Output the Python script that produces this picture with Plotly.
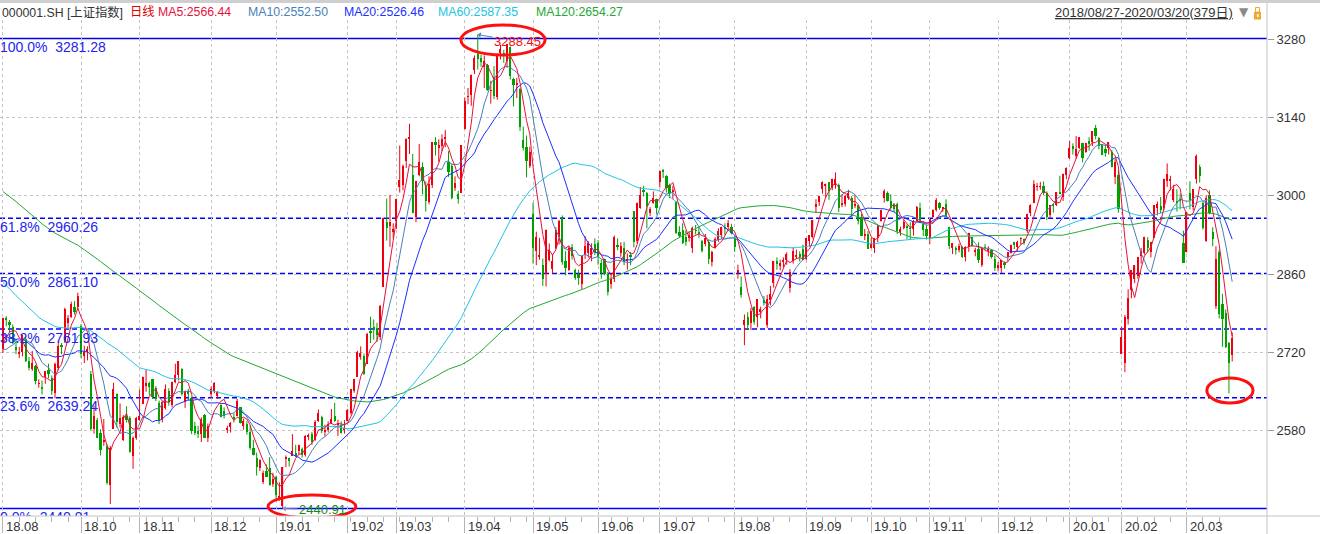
import numpy as np
import pandas as pd
import plotly.graph_objects as go

# ---------------- data ----------------
month_days = {
    "2018-08": [27, 28, 29, 30, 31],
    "2018-09": [3, 4, 5, 6, 7, 10, 11, 12, 13, 14, 17, 18, 19, 20, 21, 25, 26, 27, 28],
    "2018-10": [8, 9, 10, 11, 12, 15, 16, 17, 18, 19, 22, 23, 24, 25, 26, 29, 30, 31],
    "2018-11": [1, 2, 5, 6, 7, 8, 9, 12, 13, 14, 15, 16, 19, 20, 21, 22, 23, 26, 27, 28, 29, 30],
    "2018-12": [3, 4, 5, 6, 7, 10, 11, 12, 13, 14, 17, 18, 19, 20, 21, 24, 25, 26, 27, 28],
    "2019-01": [2, 3, 4, 7, 8, 9, 10, 11, 14, 15, 16, 17, 18, 21, 22, 23, 24, 25, 28, 29, 30, 31],
    "2019-02": [1, 11, 12, 13, 14, 15, 18, 19, 20, 21, 22, 25, 26, 27, 28],
    "2019-03": [1, 4, 5, 6, 7, 8, 11, 12, 13, 14, 15, 18, 19, 20, 21, 22, 25, 26, 27, 28, 29],
    "2019-04": [1, 2, 3, 4, 8, 9, 10, 11, 12, 15, 16, 17, 18, 19, 22, 23, 24, 25, 26, 29, 30],
    "2019-05": [6, 7, 8, 9, 10, 13, 14, 15, 16, 17, 20, 21, 22, 23, 24, 27, 28, 29, 30, 31],
    "2019-06": [3, 4, 5, 6, 10, 11, 12, 13, 14, 17, 18, 19, 20, 21, 24, 25, 26, 27, 28],
    "2019-07": [1, 2, 3, 4, 5, 8, 9, 10, 11, 12, 15, 16, 17, 18, 19, 22, 23, 24, 25, 26, 29, 30, 31],
    "2019-08": [1, 2, 5, 6, 7, 8, 9, 12, 13, 14, 15, 16, 19, 20, 21, 22, 23, 26, 27, 28, 29, 30],
    "2019-09": [2, 3, 4, 5, 6, 9, 10, 11, 12, 16, 17, 18, 19, 20, 23, 24, 25, 26, 27, 30],
    "2019-10": [8, 9, 10, 11, 14, 15, 16, 17, 18, 21, 22, 23, 24, 25, 28, 29, 30, 31],
    "2019-11": [1, 4, 5, 6, 7, 8, 11, 12, 13, 14, 15, 18, 19, 20, 21, 22, 25, 26, 27, 28, 29],
    "2019-12": [2, 3, 4, 5, 6, 9, 10, 11, 12, 13, 16, 17, 18, 19, 20, 23, 24, 25, 26, 27, 30, 31],
    "2020-01": [2, 3, 6, 7, 8, 9, 10, 13, 14, 15, 16, 17, 20, 21, 22, 23],
    "2020-02": [3, 4, 5, 6, 7, 10, 11, 12, 13, 14, 17, 18, 19, 20, 21, 24, 25, 26, 27, 28],
    "2020-03": [2, 3, 4, 5, 6, 9, 10, 11, 12, 13, 16, 17, 18, 19, 20],
}

opens_by_month = [
    [2727, 2782, 2774, 2765, 2730],
    [2717, 2721, 2745, 2704, 2691, 2696, 2664, 2658, 2677, 2689, 2675, 2648, 2692, 2733, 2741, 2773, 2784, 2801, 2801],
    [2768, 2713, 2722, 2682, 2583, 2600, 2576, 2560, 2553, 2484, 2584, 2646, 2593, 2564, 2606, 2603, 2535, 2568],
    [2599, 2628, 2660, 2665, 2672, 2656, 2630, 2602, 2620, 2651, 2626, 2668, 2680, 2690, 2631, 2651, 2639, 2588, 2580, 2575, 2609, 2568],
    [2646, 2651, 2643, 2626, 2615, 2583, 2586, 2605, 2606, 2622, 2588, 2593, 2578, 2550, 2532, 2513, 2488, 2508, 2513, 2485],
    [2497, 2461, 2446, 2529, 2532, 2535, 2540, 2544, 2548, 2537, 2570, 2574, 2564, 2597, 2605, 2577, 2582, 2594, 2607, 2592, 2590, 2583],
    [2597, 2612, 2651, 2677, 2712, 2714, 2700, 2759, 2765, 2763, 2747, 2838, 2953, 2946, 2935],
    [2955, 3016, 3020, 3062, 3103, 3038, 2963, 3038, 3052, 3018, 2990, 3020, 3097, 3086, 3090, 3102, 3060, 3053, 3015, 3004, 3005],
    [3119, 3177, 3180, 3225, 3253, 3247, 3230, 3234, 3188, 3212, 3177, 3256, 3255, 3242, 3267, 3209, 3198, 3191, 3100, 3087, 3053],
    [2968, 2902, 2891, 2876, 2860, 2886, 2870, 2906, 2926, 2962, 2884, 2868, 2908, 2868, 2860, 2843, 2894, 2898, 2894, 2914],
    [2916, 2880, 2887, 2860, 2842, 2851, 2911, 2898, 2907, 2883, 2894, 2973, 2919, 2979, 3009, 3005, 2970, 2987, 2994],
    [3024, 3046, 3035, 3020, 3008, 2989, 2935, 2939, 2927, 2924, 2907, 2939, 2934, 2920, 2914, 2918, 2881, 2907, 2922, 2931, 2945, 2945, 2944],
    [2925, 2862, 2838, 2770, 2783, 2772, 2801, 2783, 2793, 2814, 2770, 2814, 2844, 2883, 2875, 2883, 2885, 2836, 2883, 2892, 2896, 2905],
    [2887, 2920, 2926, 2980, 2990, 3013, 3019, 3024, 3014, 3020, 3019, 2985, 2985, 2997, 2997, 2983, 2983, 2963, 2929, 2932],
    [2906, 2907, 2924, 2955, 2996, 3006, 2991, 2983, 2986, 2937, 2942, 2946, 2942, 2940, 2955, 2979, 2949, 2940],
    [2924, 2962, 2975, 2987, 2977, 2986, 2945, 2906, 2906, 2903, 2909, 2891, 2909, 2926, 2901, 2905, 2877, 2908, 2903, 2903, 2887],
    [2871, 2872, 2879, 2890, 2898, 2917, 2908, 2923, 2923, 2937, 2970, 2988, 3016, 3016, 3017, 3006, 2966, 2984, 2983, 3007, 2998, 3037],
    [3067, 3089, 3071, 3085, 3094, 3079, 3099, 3097, 3121, 3104, 3092, 3084, 3085, 3079, 3034, 3037],
    [2717, 2701, 2780, 2832, 2852, 2857, 2892, 2898, 2921, 2899, 2925, 2979, 2982, 2979, 3026, 3028, 2993, 2990, 2994, 2916],
    [2899, 3006, 2981, 3031, 3052, 2987, 2919, 3001, 2936, 2804, 2900, 2807, 2790, 2737, 2716],
]

highs_by_month = [
    [2782, 2785, 2778, 2770, 2744],
    [2730, 2751, 2748, 2712, 2723, 2698, 2672, 2670, 2687, 2700, 2679, 2702, 2742, 2737, 2800, 2787, 2811, 2812, 2827],
    [2771, 2732, 2731, 2687, 2625, 2603, 2583, 2601, 2556, 2553, 2666, 2647, 2629, 2608, 2624, 2606, 2570, 2605],
    [2654, 2677, 2689, 2668, 2673, 2660, 2634, 2633, 2663, 2656, 2668, 2700, 2704, 2692, 2652, 2655, 2641, 2596, 2589, 2604, 2610, 2593],
    [2659, 2667, 2651, 2627, 2622, 2589, 2596, 2611, 2637, 2622, 2602, 2597, 2590, 2564, 2541, 2529, 2509, 2520, 2533, 2505],
    [2500, 2488, 2515, 2536, 2532, 2574, 2555, 2555, 2550, 2572, 2575, 2578, 2599, 2618, 2607, 2591, 2597, 2619, 2630, 2600, 2597, 2599],
    [2619, 2655, 2673, 2723, 2731, 2718, 2755, 2784, 2779, 2773, 2805, 2961, 2995, 3002, 2951],
    [2995, 3090, 3056, 3103, 3129, 3075, 3027, 3093, 3060, 3026, 3035, 3096, 3105, 3101, 3110, 3118, 3080, 3058, 3035, 3009, 3091],
    [3176, 3193, 3217, 3251, 3288.45, 3252, 3251, 3236, 3206, 3232, 3254, 3270, 3261, 3271, 3267, 3211, 3211, 3193, 3124, 3108, 3088],
    [2988, 2936, 2925, 2888, 2940, 2915, 2896, 2944, 2957, 2965, 2901, 2910, 2914, 2870, 2868, 2893, 2928, 2919, 2915, 2924],
    [2921, 2886, 2888, 2864, 2861, 2929, 2924, 2917, 2918, 2897, 2900, 2973, 2988, 3016, 3018, 3007, 2980, 3008, 2995],
    [3045, 3048, 3037, 3022, 3018, 2991, 2946, 2951, 2938, 2937, 2945, 2948, 2944, 2921, 2932, 2921, 2902, 2926, 2942, 2945, 2951, 2957, 2950],
    [2928, 2877, 2856, 2788, 2792, 2800, 2803, 2815, 2802, 2821, 2823, 2839, 2883, 2890, 2886, 2890, 2899, 2869, 2908, 2904, 2901, 2913],
    [2924, 2930, 2957, 2994, 3000, 3026, 3022, 3025, 3031, 3042, 3022, 3003, 3002, 3011, 3000, 3002, 2983, 2968, 2941, 2937],
    [2925, 2925, 2948, 2975, 3012, 3008, 3003, 2987, 2988, 2945, 2957, 2949, 2953, 2957, 2982, 2988, 2955, 2949],
    [2958, 2976, 2996, 2989, 2980, 2994, 2945, 2915, 2910, 2915, 2910, 2910, 2934, 2926, 2907, 2917, 2907, 2914, 2910, 2905, 2893],
    [2882, 2885, 2883, 2899, 2913, 2917, 2920, 2926, 2924, 2968, 2985, 3028, 3023, 3025, 3026, 3008, 2983, 2986, 3007, 3036, 3040, 3051],
    [3098, 3094, 3107, 3105, 3095, 3095, 3105, 3116, 3127, 3105, 3093, 3091, 3096, 3082, 3066, 3046],
    [2766, 2787, 2833, 2867, 2876, 2891, 2907, 2927, 2926, 2918, 2984, 2990, 2998, 3031, 3058, 3036, 3020, 3012, 3004, 2938],
    [2971, 3026, 3012, 3074, 3056, 2989, 3001, 3010, 2944, 2910, 2904, 2825, 2797, 2739, 2756],
]

lows_by_month = [
    [2719, 2767, 2756, 2735, 2717],
    [2710, 2713, 2703, 2688, 2687, 2663, 2657, 2645, 2664, 2674, 2644, 2638, 2688, 2717, 2737, 2764, 2782, 2788, 2796],
    [2710, 2701, 2706, 2581, 2575, 2567, 2536, 2553, 2484, 2449, 2584, 2586, 2586, 2562, 2595, 2541, 2512, 2564],
    [2598, 2628, 2650, 2643, 2638, 2633, 2592, 2595, 2618, 2625, 2622, 2665, 2670, 2643, 2621, 2634, 2574, 2572, 2567, 2560, 2567, 2560],
    [2638, 2647, 2637, 2604, 2602, 2576, 2577, 2595, 2606, 2593, 2582, 2573, 2546, 2536, 2500, 2508, 2485, 2497, 2482, 2480],
    [2456, 2455, 2440.91, 2515, 2516, 2535, 2533, 2537, 2532, 2534, 2563, 2555, 2562, 2596, 2576, 2570, 2578, 2592, 2596, 2571, 2575, 2575],
    [2597, 2609, 2648, 2677, 2707, 2680, 2700, 2737, 2743, 2739, 2742, 2838, 2920, 2909, 2924],
    [2941, 3006, 3010, 3050, 3075, 2969, 2953, 3035, 3003, 2972, 2985, 3014, 3072, 3061, 3080, 3087, 3034, 2994, 3009, 2986, 3005],
    [3119, 3164, 3161, 3218, 3226, 3231, 3193, 3188, 3165, 3173, 3172, 3244, 3238, 3229, 3208, 3160, 3175, 3116, 3081, 3033, 3050],
    [2879, 2876, 2886, 2839, 2838, 2883, 2861, 2905, 2913, 2877, 2858, 2866, 2886, 2850, 2841, 2833, 2887, 2890, 2883, 2894],
    [2877, 2852, 2858, 2822, 2834, 2846, 2903, 2891, 2876, 2868, 2876, 2908, 2915, 2977, 2999, 2942, 2964, 2986, 2967],
    [3015, 3032, 3006, 2996, 2994, 2932, 2925, 2914, 2911, 2918, 2898, 2931, 2925, 2899, 2910, 2878, 2874, 2906, 2918, 2923, 2930, 2940, 2931],
    [2900, 2852, 2818, 2733, 2760, 2760, 2770, 2765, 2781, 2804, 2764, 2804, 2836, 2868, 2867, 2872, 2877, 2827, 2879, 2887, 2883, 2885],
    [2885, 2910, 2924, 2969, 2982, 3004, 2997, 2993, 3010, 3013, 2971, 2980, 2981, 2993, 2962, 2978, 2949, 2928, 2921, 2905],
    [2906, 2898, 2917, 2954, 2988, 2990, 2975, 2971, 2932, 2929, 2940, 2923, 2923, 2929, 2955, 2954, 2928, 2922],
    [2914, 2961, 2972, 2975, 2971, 2963, 2905, 2896, 2895, 2899, 2889, 2883, 2900, 2909, 2892, 2880, 2873, 2903, 2892, 2888, 2866],
    [2865, 2862, 2870, 2883, 2897, 2905, 2902, 2913, 2913, 2934, 2964, 2987, 3009, 3011, 3001, 2957, 2961, 2970, 2982, 3004, 2991, 3030],
    [3066, 3074, 3066, 3084, 3060, 3077, 3081, 3089, 3101, 3083, 3073, 3070, 3074, 3051, 3021, 2970],
    [2717, 2685, 2770, 2817, 2844, 2852, 2879, 2895, 2899, 2890, 2925, 2965, 2969, 2974, 3016, 3010, 2989, 2972, 2976, 2880],
    [2899, 2976, 2974, 3022, 3024, 2940, 2918, 2967, 2910, 2798, 2781, 2730, 2728, 2647, 2704],
]

closes_by_month = [
    [2781, 2778, 2769, 2738, 2725],
    [2721, 2751, 2704, 2692, 2702, 2669, 2665, 2656, 2687, 2682, 2652, 2700, 2731, 2729, 2797, 2781, 2807, 2792, 2821],
    [2717, 2721, 2726, 2583, 2607, 2568, 2546, 2562, 2486, 2550, 2655, 2595, 2603, 2604, 2599, 2542, 2568, 2603],
    [2606, 2676, 2665, 2659, 2641, 2636, 2599, 2631, 2655, 2632, 2668, 2679, 2704, 2645, 2652, 2646, 2579, 2576, 2575, 2602, 2567, 2588],
    [2655, 2666, 2650, 2605, 2606, 2585, 2594, 2602, 2634, 2594, 2598, 2577, 2550, 2536, 2516, 2527, 2505, 2498, 2483, 2494],
    [2465, 2464, 2515, 2533, 2526, 2544, 2535, 2554, 2536, 2570, 2570, 2560, 2596, 2611, 2580, 2581, 2592, 2602, 2597, 2594, 2576, 2585],
    [2618, 2654, 2672, 2721, 2720, 2682, 2754, 2756, 2761, 2752, 2804, 2961, 2942, 2954, 2941],
    [2994, 3028, 3054, 3102, 3106, 2970, 3027, 3060, 3027, 2991, 3022, 3096, 3091, 3091, 3101, 3104, 3043, 2997, 3023, 2995, 3091],
    [3170, 3177, 3216, 3247, 3245, 3240, 3242, 3190, 3189, 3178, 3254, 3263, 3250, 3271, 3215, 3199, 3202, 3124, 3086, 3063, 3078],
    [2906, 2926, 2894, 2851, 2939, 2904, 2884, 2939, 2956, 2882, 2871, 2906, 2892, 2853, 2853, 2892, 2910, 2915, 2906, 2899],
    [2890, 2862, 2861, 2828, 2852, 2926, 2909, 2911, 2882, 2888, 2890, 2918, 2987, 3002, 3008, 2982, 2976, 2997, 2979],
    [3045, 3044, 3015, 3005, 3011, 2933, 2928, 2915, 2918, 2931, 2942, 2938, 2932, 2901, 2924, 2887, 2900, 2923, 2937, 2945, 2941, 2952, 2933],
    [2909, 2868, 2822, 2778, 2769, 2795, 2775, 2815, 2797, 2809, 2816, 2824, 2883, 2880, 2880, 2883, 2897, 2864, 2902, 2894, 2891, 2886],
    [2924, 2930, 2957, 2986, 3000, 3025, 3021, 3009, 3031, 3031, 2978, 2986, 2999, 3006, 2977, 2985, 2955, 2929, 2932, 2905],
    [2914, 2925, 2948, 2974, 3008, 2991, 2979, 2977, 2938, 2940, 2954, 2942, 2941, 2955, 2980, 2954, 2939, 2929],
    [2958, 2975, 2992, 2979, 2979, 2964, 2910, 2915, 2905, 2910, 2891, 2909, 2934, 2911, 2904, 2885, 2906, 2907, 2903, 2890, 2872],
    [2876, 2885, 2878, 2899, 2912, 2914, 2917, 2924, 2916, 2968, 2984, 3022, 3017, 3017, 3005, 2963, 2983, 2982, 3007, 3005, 3040, 3050],
    [3085, 3084, 3083, 3105, 3067, 3095, 3092, 3116, 3107, 3090, 3074, 3076, 3096, 3052, 3061, 2977],
    [2747, 2783, 2818, 2867, 2876, 2890, 2902, 2927, 2906, 2917, 2984, 2985, 2975, 3030, 3040, 3031, 3013, 2988, 2991, 2880],
    [2971, 2993, 3012, 3072, 3035, 2943, 2997, 2969, 2923, 2887, 2789, 2780, 2729, 2702, 2746],
]

# closes before the window (2018-03-06 .. 2018-08-24), only used for the moving averages
hist_closes = [
    3290, 3272, 3288, 3307, 3327, 3310, 3291, 3291, 3270, 3279, 3291, 3281, 3263, 3153, 3134, 3167, 3122, 3161, 3169,
    3163, 3136, 3131, 3138, 3190, 3208, 3180, 3159, 3111, 3067, 3091, 3118, 3071, 3068, 3129, 3118, 3075, 3082,
    3081, 3101, 3091, 3136, 3161, 3159, 3174, 3163, 3174, 3192, 3170, 3155, 3193, 3214, 3214, 3169, 3154, 3141, 3135, 3120, 3041, 3095,
    3075, 3091, 3114, 3115, 3109, 3067, 3052, 3079, 3049, 3044, 3021, 2907, 2915, 2875, 2889, 2859, 2844, 2813, 2786, 2847,
    2775, 2786, 2759, 2733, 2747, 2815, 2827, 2777, 2837, 2831, 2814, 2798, 2787, 2773, 2829, 2859, 2905, 2903, 2882, 2874, 2870, 2876,
    2824, 2768, 2740, 2705, 2779, 2744, 2795, 2795, 2785, 2781, 2723, 2705, 2669, 2698, 2733, 2714, 2724, 2730,
]

ma_windows = [5, 10, 20, 60, 120]
ma_colors = ["#e8103c", "#4a7fb8", "#1a30ff", "#20c4e4", "#22a832"]

fib_low = 2440.91
fib_high = 3281.28
fib_ratios = [1.0, 0.618, 0.5, 0.382, 0.236, 0.0]
fib_names = ["100.0%", "61.8%", "50.0%", "38.2%", "23.6%", "0.0%"]

y_ticks = [2580, 2720, 2860, 3000, 3140, 3280]
skip_month_labels = ["2018-09"]

header_items = [
    ("000001.SH [上证指数]", "#333333", 0),
    ("日线", "#e00000", 128),
    ("MA5:2566.44", "#e8103c", 156),
    ("MA10:2552.50", "#4a7fb8", 246),
    ("MA20:2526.46", "#1a30ff", 342),
    ("MA60:2587.35", "#20c4e4", 436),
    ("MA120:2654.27", "#22a832", 534),
]
range_text = "2018/08/27-2020/03/20(379日)"
high_text = "3288.45"
low_text = "2440.91"

# ---------------- build ----------------
for ym, o, h, l, c in zip(month_days, opens_by_month, highs_by_month, lows_by_month, closes_by_month):
    n_m = len(month_days[ym])
    assert len(o) == n_m and len(h) == n_m and len(l) == n_m and len(c) == n_m, ym

dates = []
for ym, days in month_days.items():
    for d in days:
        dates.append(pd.Timestamp(f"{ym}-{d:02d}"))
opens = [v for m in opens_by_month for v in m]
highs = [v for m in highs_by_month for v in m]
lows = [v for m in lows_by_month for v in m]
closes = [v for m in closes_by_month for v in m]
n = len(dates)
assert len(hist_closes) == 119
idx = np.arange(n)

all_close = pd.Series(hist_closes + closes, dtype=float)
mas = [all_close.rolling(w).mean().values[len(hist_closes):] for w in ma_windows]

# month starts / week starts
month_idx, month_lbl = [], []
week_idx = []
prev_m, prev_w = None, None
for i, d in enumerate(dates):
    ym = d.strftime("%Y-%m")
    if ym != prev_m:
        if ym not in skip_month_labels:
            month_idx.append(i)
            month_lbl.append(d.strftime("%y.%m"))
        prev_m = ym
    wk = d.isocalendar()[:2]
    if wk != prev_w:
        week_idx.append(i)
        prev_w = wk

# geometry (pixels)
W, H = 1320, 534
PL, PR, PT, PB = 0, 1267, 20, 516
YR = [2427.7, 3314.5]
XR = [-0.92, 388.7]
px_per_unit = (PB - PT) / (YR[1] - YR[0])


def pxx(px):
    return (px - PL) / (PR - PL)


def pxy(py):
    return (PB - py) / (PB - PT)


RED = "#f00010"
GREEN = "#00a000"

fig = go.Figure()

# wicks
for color, cond in [(RED, lambda i: closes[i] >= opens[i]), (GREEN, lambda i: closes[i] < opens[i])]:
    xs, ys = [], []
    for i in idx:
        if cond(i):
            xs += [i, i, None]
            ys += [lows[i], highs[i], None]
    fig.add_trace(go.Scatter(x=xs, y=ys, mode="lines", line=dict(color=color, width=1),
                             hoverinfo="skip", showlegend=False))

# bodies
up = [i for i in idx if closes[i] >= opens[i]]
dn = [i for i in idx if closes[i] < opens[i]]
fig.add_trace(go.Bar(x=up, base=[opens[i] for i in up], y=[max(closes[i] - opens[i], 0.8) for i in up],
                     width=0.45, marker=dict(color=RED, line=dict(width=0)), hoverinfo="skip", showlegend=False))
fig.add_trace(go.Bar(x=dn, base=[closes[i] for i in dn], y=[opens[i] - closes[i] for i in dn],
                     width=0.7, marker=dict(color=GREEN, line=dict(width=0)), hoverinfo="skip", showlegend=False))

# moving averages (long ones first so short ones are on top)
for ma, col in list(zip(mas, ma_colors))[::-1]:
    fig.add_trace(go.Scatter(x=idx, y=ma, mode="lines", line=dict(color=col, width=1),
                             hoverinfo="skip", showlegend=False))

# fibonacci lines + labels
shapes = []
fib_vals = [fib_low + r * (fib_high - fib_low) for r in fib_ratios]
for r, v in zip(fib_ratios, fib_vals):
    solid = r in (0.0, 1.0)
    shapes.append(dict(type="line", xref="paper", yref="y", x0=0, x1=1, y0=v, y1=v, layer="between",
                       line=dict(color="#0000ff", width=1.5, dash="solid" if solid else "5px,3px")))
fig.add_trace(go.Scatter(
    x=[XR[0]] * len(fib_vals),
    y=[v - 10 / px_per_unit for v in fib_vals],
    mode="text", text=[f"{nm}  {v:.2f}" for nm, v in zip(fib_names, fib_vals)],
    textposition="middle right", textfont=dict(color="#2424f0", size=14, family="Liberation Sans, Arial, sans-serif"),
    cliponaxis=True, hoverinfo="skip", showlegend=False))

# ellipses
ell = dict(type="circle", xref="x", yref="y", layer="above", line=dict(color="#ff1010", width=3))
shapes.append(dict(ell, x0=140.8, x1=166.7, y0=3251.9, y1=3305.6))
shapes.append(dict(ell, x0=81.5, x1=108.5, y0=2424.1, y1=2465.2))
shapes.append(dict(ell, x0=370.2, x1=384.4, y0=2629.7, y1=2674.4))

# frame lines
GREY = "#c4c4c4"
shapes.append(dict(type="line", xref="paper", yref="paper", x0=0, x1=pxx(W), y0=pxy(1.5), y1=pxy(1.5),
                   line=dict(color="#cfcfcf", width=3)))
shapes.append(dict(type="line", xref="paper", yref="paper", x0=0, x1=pxx(W), y0=0, y1=0,
                   line=dict(color=GREY, width=1)))
shapes.append(dict(type="line", xref="paper", yref="paper", x0=1, x1=1, y0=pxy(3), y1=pxy(H),
                   line=dict(color=GREY, width=1)))
# lock icon
shapes.append(dict(type="rect", xref="paper", yref="paper", x0=pxx(1254), x1=pxx(1261), y0=pxy(19.5), y1=pxy(12),
                   fillcolor="#f0a830", line=dict(width=0)))
shapes.append(dict(type="rect", xref="paper", yref="paper", x0=pxx(1255.5), x1=pxx(1259.5), y0=pxy(12), y1=pxy(7.5),
                   fillcolor="rgba(0,0,0,0)", line=dict(color="#f0a830", width=1)))
shapes.append(dict(type="rect", xref="paper", yref="paper", x0=pxx(1257), x1=pxx(1258.5), y0=pxy(17), y1=pxy(14),
                   fillcolor="#ffffff", line=dict(width=0)))

FONT = "Liberation Sans, Arial, Noto Sans CJK SC, sans-serif"
ann = []
for text, col, x in header_items:
    ann.append(dict(text=text, xref="paper", yref="paper", x=pxx(x), y=pxy(12), xanchor="left", yanchor="middle",
                    showarrow=False, font=dict(size=12.3, color=col, family=FONT)))
ann.append(dict(text=f"<u>{range_text}</u>", xref="paper", yref="paper", x=pxx(1235), y=pxy(12),
                xanchor="right", yanchor="middle", showarrow=False, font=dict(size=13, color="#333333", family=FONT)))
ann.append(dict(text="▼", xref="paper", yref="paper", x=pxx(1244), y=pxy(12), xanchor="center", yanchor="middle",
                showarrow=False, font=dict(size=12, color="#8a8a8a", family="DejaVu Sans")))

# month labels on the x axis
for i, lb in zip(month_idx, month_lbl):
    ann.append(dict(text=lb, xref="x", yref="paper", x=i, y=pxy(526), xanchor="left", yanchor="middle",
                    xshift=1, showarrow=False, font=dict(size=13, color="#333333", family=FONT)))

# high / low markers
hi_i = int(np.argmax(highs))
lo_i = int(np.argmin(lows))
ann.append(dict(text=high_text, x=hi_i, y=highs[hi_i], xref="x", yref="y", ax=40, ay=7,
                showarrow=True, arrowhead=1, arrowsize=1, arrowwidth=1, arrowcolor="#4a86b8",
                font=dict(size=13, color="#ee1010", family=FONT)))
ann.append(dict(text=low_text, x=lo_i, y=lows[lo_i], xref="x", yref="y", ax=40, ay=1,
                showarrow=True, arrowhead=1, arrowsize=1, arrowwidth=1, arrowcolor="#8a9ab0",
                font=dict(size=13, color="#108a10", family=FONT)))

fig.update_layout(
    width=W, height=H, autosize=False,
    margin=dict(l=PL, r=W - PR, t=PT, b=H - PB, pad=0),
    paper_bgcolor="white", plot_bgcolor="white",
    barmode="overlay", bargap=0, showlegend=False, hovermode=False,
    shapes=shapes, annotations=ann,
    font=dict(family=FONT, size=13, color="#333333"),
    xaxis=dict(range=XR, showline=False, zeroline=False,
               tickmode="array", tickvals=month_idx, showticklabels=False,
               ticks="outside", ticklen=16, tickwidth=1, tickcolor="#b4b4b4",
               showgrid=True, gridcolor="#c4c4c4", griddash="dot", gridwidth=1,
               minor=dict(tickmode="array", tickvals=week_idx, ticks="outside", ticklen=5,
                          tickcolor="#b4b4b4", tickwidth=1, showgrid=False)),
    yaxis=dict(range=YR, side="right", showline=False, zeroline=False,
               tickmode="array", tickvals=y_ticks, ticktext=[str(v) for v in y_ticks],
               ticks="outside", ticklen=6, tickwidth=1, tickcolor="#9a9a9a",
               tickfont=dict(size=13, color="#333333", family=FONT),
               showgrid=True, gridcolor="#c4c4c4", griddash="dot", gridwidth=1),
)

fig.write_html(
    "out.html",
    config={"displayModeBar": False},
    post_script="document.body.style.margin='0';document.body.style.padding='0';document.body.style.overflow='hidden';",
)
